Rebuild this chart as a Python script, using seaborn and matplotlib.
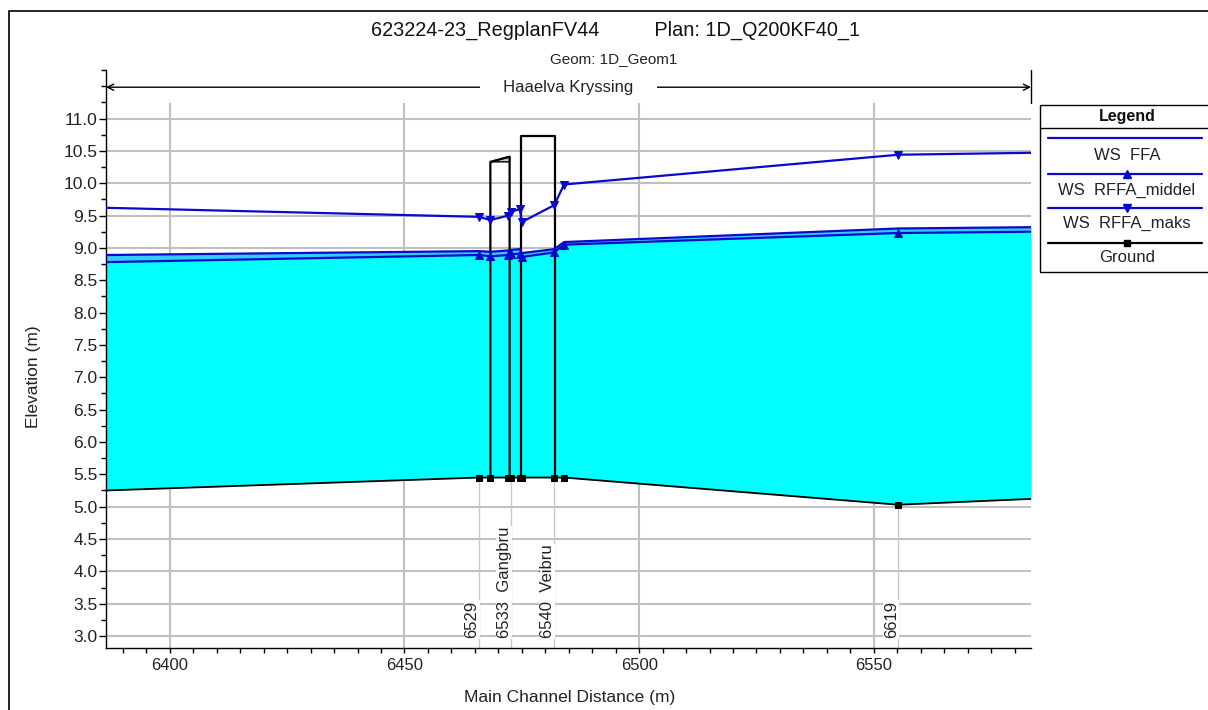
import numpy as np
import pandas as pd
import matplotlib
matplotlib.use("Agg")
import matplotlib.pyplot as plt
import seaborn as sns
from matplotlib.lines import Line2D
from matplotlib.patches import Rectangle, Polygon
from matplotlib.ticker import MultipleLocator

# ---------------- data ----------------
distance  = [6386.4, 6465.9, 6468.3, 6472.1, 6472.7, 6474.6, 6475.0, 6481.9, 6484.0, 6555.2, 6583.5]
ground    = [5.25, 5.45, 5.45, 5.45, 5.45, 5.45, 5.45, 5.45, 5.45, 5.03, 5.12]
ws_ffa    = [8.89, 8.95, 8.94, 8.96, 8.97, 8.98, 8.92, 8.98, 9.09, 9.30, 9.32]
ws_middel = [8.78, 8.89, 8.87, 8.89, 8.90, 8.91, 8.86, 8.93, 9.05, 9.23, 9.25]
ws_maks   = [9.62, 9.48, 9.43, 9.50, 9.56, 9.60, 9.40, 9.66, 9.98, 10.44, 10.47]
section_idx = [1, 2, 3, 4, 5, 6, 7, 8, 9]   # points that are real sections (marked)

station_labels = ["6529", "6533  Gangbru", "6540  Veibru", "6619"]
station_dist   = [6465.9, 6472.7, 6481.9, 6555.2]

bridge_names     = ["Gangbru", "Veibru"]
bridge_left      = [6468.3, 6474.9]
bridge_right     = [6472.4, 6482.0]
bridge_top_left  = [10.33, 10.73]
bridge_top_right = [10.41, 10.73]

reach_name = "Haaelva Kryssing"
title_main = "623224-23_RegplanFV44          Plan: 1D_Q200KF40_1"
title_sub = "Geom: 1D_Geom1"
legend_entries = ["WS  FFA", "WS  RFFA_middel", "WS  RFFA_maks", "Ground"]

# ---------------- style ----------------
sns.set_theme(style="white")
plt.rcParams["font.family"] = ["Liberation Sans", "DejaVu Sans"]

W, H = 1208, 710
fig = plt.figure(figsize=(W / 100, H / 100), dpi=100)
fig.patch.set_facecolor("white")

def fx(px):
    return px / W

def fy(py):
    return 1 - py / H

ax = fig.add_axes([fx(106), fy(648), fx(1031) - fx(106), fy(70) - fy(648)])
xmin, xmax = 6386.4, 6583.5
ymin, ymax = 2.815, 11.75
grid_top = 11.24
ax.set_xlim(xmin, xmax)
ax.set_ylim(ymin, ymax)
ax.set_facecolor("white")

BLUE = "#0A0ACC"
CYAN = "#00FFFF"
BAND = "#33CCFF"
GRID = "#C0C0C0"

# grid
for yv in np.arange(3.0, 11.01, 0.5):
    ax.hlines(yv, xmin, xmax, color=GRID, lw=1.5, zorder=0)
for xv in [6400, 6450, 6500, 6550]:
    ax.vlines(xv, ymin, grid_top, color=GRID, lw=1.5, zorder=0)

# station lines and labels
g_at = np.interp(station_dist, distance, ground)
for d, gz, lab in zip(station_dist, g_at, station_labels):
    ax.vlines(d, ymin, gz, color="#C8C8C8", lw=1.0, zorder=0.5)
    ax.annotate(lab, xy=(d, 2.97), xytext=(-7, 0), textcoords="offset pixels",
                rotation=90, ha="center", va="bottom", fontsize=12, color="#222222",
                bbox=dict(fc="white", ec="none", pad=0.5), zorder=1)

# water fill
ax.fill_between(distance, ground, ws_middel, color=CYAN, lw=0, zorder=1.5)
ax.fill_between(distance, ws_middel, ws_ffa, color=BAND, lw=0, zorder=1.5)

# bridges
for bl, br, tl, tr in zip(bridge_left, bridge_right, bridge_top_left, bridge_top_right):
    gl = np.interp(bl, distance, ground)
    gr = np.interp(br, distance, ground)
    if tr != tl:
        ax.add_patch(Polygon([(bl, tl), (br, tr), (br, tl)], closed=True,
                             fc="#C8C8C8", ec="black", lw=1.0, zorder=3))
    ax.plot([bl, bl, br, br], [gl, tl, tr, gr], color="black", lw=1.6, zorder=3)

# lines
df = pd.DataFrame({"distance": distance, "ground": ground, "ffa": ws_ffa,
                   "middel": ws_middel, "maks": ws_maks})
sns.lineplot(data=df, x="distance", y="ffa", ax=ax, color=BLUE, lw=1.6,
             sort=False, legend=False, zorder=4)
sns.lineplot(data=df, x="distance", y="middel", ax=ax, color=BLUE, lw=1.6,
             marker="^", markevery=section_idx, markersize=6, mec=BLUE, mfc=BLUE,
             sort=False, legend=False, zorder=4)
sns.lineplot(data=df, x="distance", y="maks", ax=ax, color=BLUE, lw=1.6,
             marker="v", markevery=section_idx, markersize=6, mec=BLUE, mfc=BLUE,
             sort=False, legend=False, zorder=4)
sns.lineplot(data=df, x="distance", y="ground", ax=ax, color="black", lw=1.3,
             marker="s", markevery=section_idx, markersize=5, mec="black", mfc="black",
             sort=False, legend=False, zorder=4)

# reach bracket
reach_y = 11.484
ax.annotate("", xy=(xmin, reach_y), xytext=(xmax, reach_y),
            arrowprops=dict(arrowstyle="<->", color="black", lw=1.0,
                            shrinkA=0, shrinkB=0, mutation_scale=11),
            annotation_clip=False, zorder=2)
ax.text((xmin + xmax) / 2, reach_y, "     " + reach_name + "     ", ha="center", va="center",
        fontsize=12, color="#222222", bbox=dict(fc="white", ec="none", pad=0.3), zorder=3)
ax.plot([xmax, xmax], [grid_top, ymax], color="black", lw=1.0, clip_on=False, zorder=3)

# axes
ax.set_xlabel("Main Channel Distance (m)", fontsize=12.5, color="#222222")
ax.set_ylabel("Elevation (m)", fontsize=12.5, color="#222222")
ax.xaxis.set_label_coords(0.5016, -0.072)
ax.yaxis.set_label_coords(-0.070, 0.469)
ax.xaxis.set_major_locator(MultipleLocator(50))
ax.xaxis.set_minor_locator(MultipleLocator(5))
ax.yaxis.set_major_locator(MultipleLocator(0.5))
ax.yaxis.set_minor_locator(MultipleLocator(0.25))
ax.set_yticks(np.arange(3.0, 11.01, 0.5))
ax.set_yticklabels([f"{v:.1f}" for v in np.arange(3.0, 11.01, 0.5)])
ax.tick_params(axis="x", which="both", direction="out", length=3.5, width=1,
               color="black", labelsize=12, pad=4, labelcolor="#222222", bottom=True)
ax.tick_params(axis="y", which="major", direction="out", length=5, width=1,
               color="black", labelsize=12.5, pad=1, labelcolor="#222222", left=True)
ax.tick_params(axis="y", which="minor", direction="out", length=3.5, width=1,
               color="black", left=True)
for s in ["top", "right"]:
    ax.spines[s].set_visible(False)
for s in ["left", "bottom"]:
    ax.spines[s].set_visible(True)
    ax.spines[s].set_color("black")
    ax.spines[s].set_linewidth(1.0)

# titles
fig.text(fx(616), fy(30), title_main, ha="center", va="center", fontsize=14.3, color="#111111")
fig.text(fx(614), fy(59), title_sub, ha="center", va="center", fontsize=11, color="#222222")

# legend (drawn like the HEC-RAS legend panel)
fig.add_artist(Rectangle((fx(1040), fy(272)), fx(1230) - fx(1040), fy(105) - fy(272),
                         transform=fig.transFigure, fill=False, ec="black", lw=1.0))
fig.add_artist(Line2D([fx(1040), fx(1230)], [fy(128), fy(128)], transform=fig.transFigure,
                      color="black", lw=1.0))
fig.text(fx(1127), fy(116), "Legend", ha="center", va="center", fontsize=11.5,
         fontweight="bold", color="#111111")
leg_styles = [(BLUE, None), (BLUE, "^"), (BLUE, "v"), ("black", "s")]
leg_line_y = [138, 174, 208, 243]
leg_text_y = [156, 190, 223, 258]
for (col, mk), ly, ty, lab in zip(leg_styles, leg_line_y, leg_text_y, legend_entries):
    fig.add_artist(Line2D([fx(1048), fx(1202)], [fy(ly), fy(ly)], transform=fig.transFigure,
                          color=col, lw=1.6))
    if mk is not None:
        fig.add_artist(Line2D([fx(1127)], [fy(ly)], transform=fig.transFigure, color=col,
                              marker=mk, markersize=6 if mk != "s" else 5, mfc=col, mec=col, lw=0))
    fig.text(fx(1127), fy(ty), lab, ha="center", va="center", fontsize=12, color="#222222")

# outer frame (top and left edges visible)
fig.add_artist(Line2D([fx(9), fx(9), fx(1215)], [fy(715), fy(11), fy(11)],
                      transform=fig.transFigure, color="black", lw=1.2))

fig.savefig("out.png", dpi=100, facecolor="white")
